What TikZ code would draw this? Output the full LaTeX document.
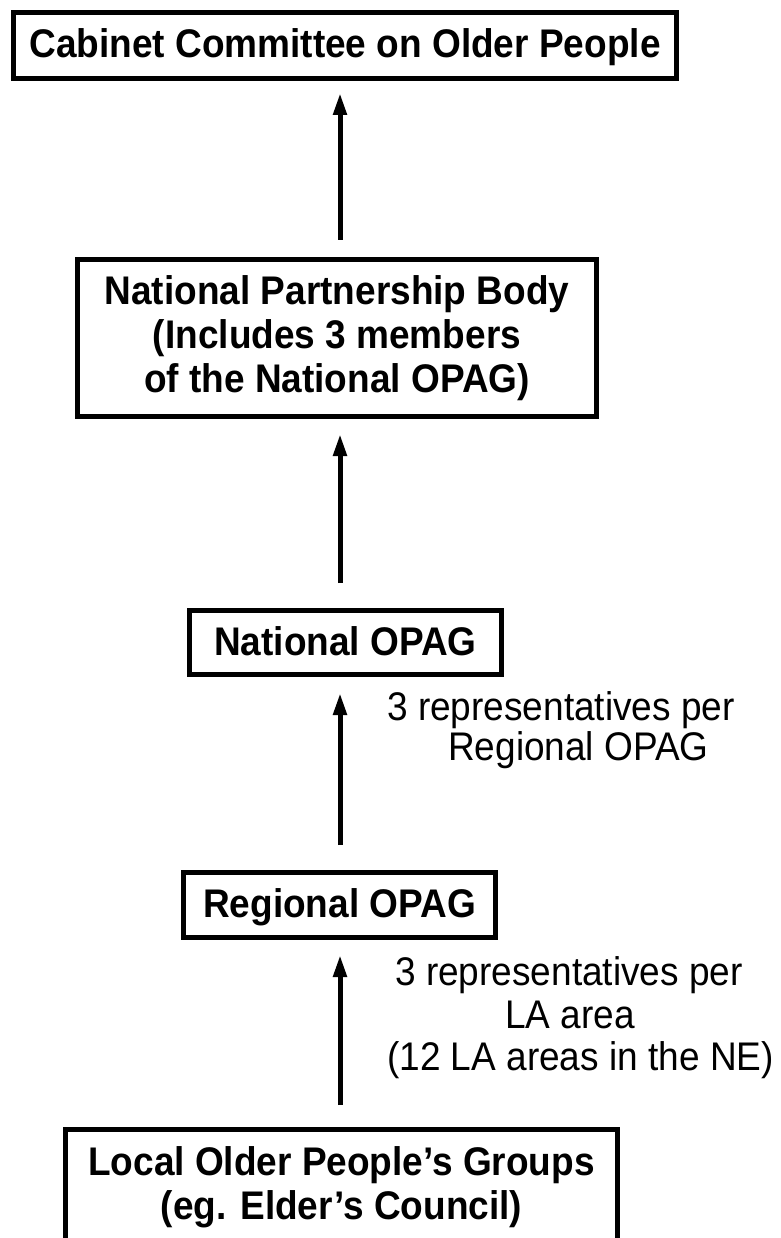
\documentclass[tikz,border=0pt]{standalone}
\usepackage{graphicx}
\usepackage{fontspec}
\setmainfont{Liberation Sans}
\usetikzlibrary{arrows.meta}
\newcommand{\vstr}[1]{\scalebox{1}[1.08]{#1}}
\begin{document}
\begin{tikzpicture}[x=1pt,y=-1pt,
  box/.style={draw, line width=5pt, inner sep=0pt, font=\bfseries\fontsize{37}{44}\selectfont, align=center},
  onebox/.style={box, text height=29pt, text depth=4pt},
  lab/.style={inner sep=0pt, anchor=base west, font=\fontsize{37}{42}\selectfont},
  arr/.style={line width=5pt, -{Triangle[length=22pt,width=13pt]}}]
\useasboundingbox (0,0) rectangle (780,1238);
\clip (0,0) rectangle (780,1238);
\fill[white] (0,0) rectangle (780,1238);
\coordinate (ax) at (340,0);

\node[onebox, minimum width=663pt, minimum height=66pt] (b1) at (345,45.5) {\vstr{Cabinet Committee on Older People}};
\node[box, minimum width=519pt, minimum height=157pt] (b2) at (337,338) {\vstr{National Partnership Body}\\\vstr{(Includes 3 members}\\\vstr{of the National OPAG)}};
\node[onebox, minimum width=312pt, minimum height=64pt] (b3) at (345.5,642.5) {\vstr{National OPAG}};
\node[onebox, minimum width=312pt, minimum height=65pt] (b4) at (339.5,905) {\vstr{Regional OPAG}};
\node[box, minimum width=552pt, minimum height=115pt] (b5) at (341.5,1187) {\vstr{Local Older People’s Groups}\\\vstr{(eg. Elder’s Council)}};

\node[lab] (l1a) at (387,720) {\vstr{3 representatives per}};
\node[lab] (l1b) at (448,760) {\vstr{Regional OPAG}};
\node[lab] (l2a) at (395,985) {\vstr{3 representatives per}};
\node[lab] (l2b) at (505,1028) {\vstr{LA area}};
\node[lab] (l2c) at (387,1070) {\vstr{(12 LA areas in the NE)}};

\draw[arr, shorten <=17pt, shorten >=12pt] (b2.north -| ax) -- (b1.south -| ax);
\draw[arr, shorten <=25pt, shorten >=15pt] (b3.north -| ax) -- (b2.south -| ax);
\draw[arr, shorten <=25pt, shorten >=16pt] (b4.north -| ax) -- (b3.south -| ax);
\draw[arr, shorten <=22pt, shorten >=15pt] (b5.north -| ax) -- (b4.south -| ax);
\end{tikzpicture}
\end{document}
